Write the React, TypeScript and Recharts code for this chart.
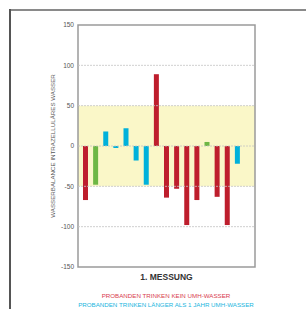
import React from 'react';
import { BarChart, Bar, XAxis, YAxis, ReferenceArea, ReferenceLine, Cell, Label } from 'recharts';

const probanden = ['P1','P2','P3','P4','P5','P6','P7','P8','P9','P10','P11','P12','P13','P14','P15','P16'];
const gruppe = ['kein','andere','lang','lang','lang','lang','lang','kein','kein','kein','kein','kein','andere','kein','kein','lang'];
const wasserbalance = [-67, -48, 18, -2.5, 22, -18, -48, 89, -64, -53, -98, -67, 5, -63, -98, -22];
const yTicks = [-150, -100, -50, 0, 50, 100, 150];
const gridLines = [-100, -50, 0, 50, 100];
const legendLabels = ['PROBANDEN TRINKEN KEIN UMH-WASSER', 'PROBANDEN TRINKEN LÄNGER ALS 1 JAHR UMH-WASSER'];

const groupColors: Record<string, string> = { kein: '#BE1E2D', lang: '#00B1DB', andere: '#6DB744' };

const data = probanden.map((p, i) => ({ name: p, wert: wasserbalance[i], gruppe: gruppe[i] }));

export default function App() {
  const font = '"Liberation Sans", Arial, sans-serif';
  return (
    <div style={{ position: 'absolute', left: 0, top: 0, width: 306, height: 309, background: '#fff', overflow: 'hidden', fontFamily: font }}>
      <div style={{ position: 'absolute', left: 10, top: 9, width: 296, height: 2, background: '#8a8a8a' }} />
      <div style={{ position: 'absolute', left: 9, top: 9, width: 2, height: 300, background: '#555' }} />
      <div style={{ position: 'absolute', left: 0, top: 0 }}>
        <BarChart width={306} height={309} data={data} margin={{ top: 25, right: 51, bottom: 0, left: 0 }} barCategoryGap={0}>
          <XAxis xAxisId="full" dataKey="name" hide />
          <ReferenceArea xAxisId="full" y1={-50} y2={50} fill="#FAF7C8" fillOpacity={1} stroke="none" />
          {gridLines.map((g) => (
            <ReferenceLine key={g} xAxisId="full" y={g} stroke="#c4c4c4" strokeDasharray="2 1" strokeWidth={0.8} />
          ))}
          <XAxis dataKey="name" tick={false} tickLine={false} axisLine={false} height={42} padding={{ left: 2, right: 13 }} />
          <YAxis
            width={78}
            domain={[-150, 150]}
            ticks={yTicks}
            tickSize={0}
            tickMargin={4}
            axisLine={false}
            tick={{ fontSize: 6.5, fill: '#555', fontFamily: font }}
            interval={0}
          >
            <Label value="WASSERBALANCE INTRAZELLULÄRES WASSER" angle={-90} position="center" dx={14} style={{ fontSize: 6.2, fill: '#555', fontFamily: font }} />
          </YAxis>
          <Bar dataKey="wert" barSize={5} isAnimationActive={false}>
            {data.map((d) => (
              <Cell key={d.name} fill={groupColors[d.gruppe]} />
            ))}
          </Bar>
          <ReferenceArea xAxisId="full" y1={-150} y2={150} fill="none" stroke="#9a9a9a" strokeWidth={1.5} />
        </BarChart>
      </div>
      <div style={{ position: 'absolute', left: 78, width: 177, top: 272, textAlign: 'center', fontSize: 8.5, fontWeight: 'bold', color: '#333', fontFamily: font }}>1. MESSUNG</div>
      <div style={{ position: 'absolute', left: 40, width: 252, top: 291, textAlign: 'center', fontSize: 6.2, lineHeight: '9px', fontFamily: font }}>
        <div style={{ color: '#D8404F' }}>{legendLabels[0]}</div>
        <div style={{ color: '#22B6DE' }}>{legendLabels[1]}</div>
      </div>
    </div>
  );
}
